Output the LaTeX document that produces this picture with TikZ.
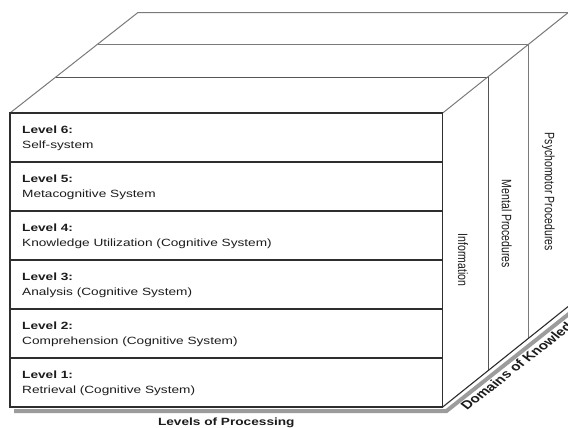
\documentclass[tikz,border=0pt]{standalone}
\usepackage{fontspec}
\setmainfont{Liberation Sans}
\usepackage{graphicx}
\definecolor{edgedark}{HTML}{2E2E2E}
\definecolor{edgemid}{HTML}{555555}
\definecolor{edgelight}{HTML}{7A7A7A}
\definecolor{shadowgray}{HTML}{9C9C9C}
\definecolor{inkgray}{HTML}{1C1C1C}
% wide letters: the drawing uses a horizontally stretched type
\newcommand{\widetext}[1]{\scalebox{1.3}[1]{#1}}
\newcommand{\talltext}[1]{\scalebox{1}[1.3]{#1}}
\tikzset{
  frontline/.style={draw=edgedark, line width=1.1pt},
  topline/.style={draw=edgelight, line width=1pt},
  midline/.style={draw=edgemid, line width=1pt},
  shadowline/.style={draw=shadowgray, line width=4pt},
  levelhead/.style={anchor=base west, inner sep=0pt, text=inkgray, font=\fontsize{10.5}{12}\selectfont\bfseries},
  levelname/.style={anchor=base west, inner sep=0pt, text=inkgray, font=\fontsize{10.5}{12}\selectfont},
  domainlabel/.style={inner sep=0pt, text=inkgray, font=\fontsize{10.5}{12}\selectfont, rotate=-90},
  axislabel/.style={inner sep=0pt, text=inkgray, font=\fontsize{10.5}{12}\selectfont\bfseries}
}
\begin{document}
\begin{tikzpicture}[x=1pt, y=-1pt]
\useasboundingbox (0,0) rectangle (568,428);
\clip (0,0) rectangle (568,428);
\fill[white] (0,0) rectangle (568,428);

% corner points of the box
\coordinate (L0) at (10,113);
\coordinate (L1) at (55.7,77.3);
\coordinate (L2) at (97.7,45);
\coordinate (L3) at (137.7,12.7);
\coordinate (R0) at (442.7,113);
\coordinate (R1) at (488.3,77.3);
\coordinate (R2) at (528.7,45);
\coordinate (R3) at (568,12.7);
\coordinate (R4) at (588,-3.3);
\coordinate (B0) at (442.7,407);
\coordinate (B1) at (488.3,371);
\coordinate (B2) at (528.7,338.7);
\coordinate (B4) at (590,289);
\coordinate (F0) at (10,407);

% drop shadow under the base
\draw[shadowline] (14,411) -- (446.5,411) -- (594,294);

% top face
\draw[topline] (L0) -- (L3) -- (R3);
\draw[topline] (L2) -- (R2);
\draw[midline] (L1) -- (R1);
\draw[topline] (R0) -- (R4);

% side face: knowledge domains
\draw[midline] (R1) -- (B1);
\draw[topline] (R2) -- (B2);
\draw[frontline] (B0) -- (B4);

% front face: levels of processing
\draw[frontline] (L0) rectangle (B0);
\foreach \k in {1,...,5}{
  \draw[frontline] (10,113+49*\k) -- (442.7,113+49*\k);
}

\node[levelhead] (h6) at (22,133) {\widetext{Level 6:}};
\node[levelname] (n6) at (22,148.5) {\widetext{Self-system}};
\node[levelhead] (h5) at (22,182) {\widetext{Level 5:}};
\node[levelname] (n5) at (22,197.5) {\widetext{Metacognitive System}};
\node[levelhead] (h4) at (22,231) {\widetext{Level 4:}};
\node[levelname] (n4) at (22,246.5) {\widetext{Knowledge Utilization (Cognitive System)}};
\node[levelhead] (h3) at (22,280) {\widetext{Level 3:}};
\node[levelname] (n3) at (22,295.5) {\widetext{Analysis (Cognitive System)}};
\node[levelhead] (h2) at (22,329) {\widetext{Level 2:}};
\node[levelname] (n2) at (22,344.5) {\widetext{Comprehension (Cognitive System)}};
\node[levelhead] (h1) at (22,378) {\widetext{Level 1:}};
\node[levelname] (n1) at (22,393.5) {\widetext{Retrieval (Cognitive System)}};

\node[domainlabel] (info) at (463,260) {\talltext{Information}};
\node[domainlabel] (mental) at (506.7,224) {\talltext{Mental Procedures}};
\node[domainlabel] (psycho) at (548.3,191.7) {\talltext{Psychomotor Procedures}};

\node[axislabel, anchor=base] (lop) at (226.3,425) {\widetext{Levels of Processing}};

\begin{scope}[shift={(467,411)}]
  \node[axislabel, font=\fontsize{11.8}{13}\selectfont\bfseries, anchor=base west, transform shape, xscale=1.3, rotate=45.5] (dok) at (0,0) {Domains of Knowledge};
\end{scope}
\end{tikzpicture}
\end{document}
